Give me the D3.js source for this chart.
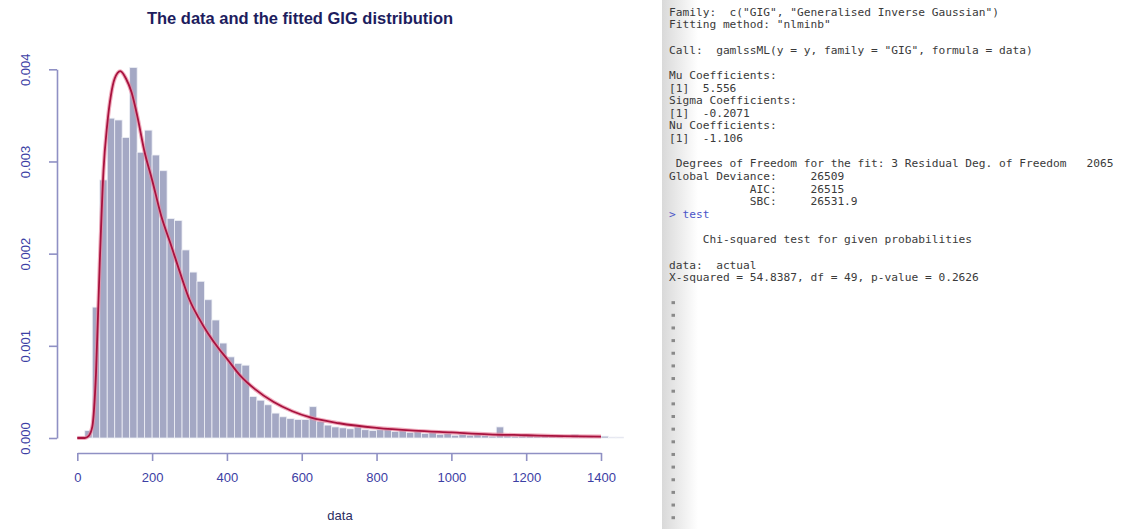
<!DOCTYPE html>
<html>
<head>
<meta charset="utf-8">
<script src="https://cdn.jsdelivr.net/npm/d3@7"></script>
<style>
  body { margin: 0; background: #fff; }
  svg { display: block; }
</style>
</head>
<body>
<svg id="drawing_region"></svg>
<script>
// histogram: bin width 20, left edges 0..1440
const binWidth = 20;
const binStarts = d3.range(0, 1460, binWidth);
const density = [
    0.00002, 0.00008, 0.00142, 0.0028, 0.00347, 0.00345, 0.00326, 0.00402, 0.0031, 0.00334,
    0.00307, 0.0029, 0.00238, 0.00236, 0.00204, 0.0018, 0.0017, 0.0015, 0.00128, 0.00103,
    0.00088, 0.00081, 0.00079, 0.00045, 0.00041, 0.00036, 0.00027, 0.00023, 0.00021, 0.0002,
    0.0002, 0.00034, 0.00018, 0.00014, 0.00012, 0.00011, 0.0001, 0.00012, 0.00009, 0.00008,
    0.00009, 0.0001, 0.00007, 0.00008, 0.00006, 0.00007, 0.00005, 0.00006, 0.00004, 0.00005,
    0.00003, 0.00004, 0.00003, 0.00004, 0.00003, 0.00002, 0.00012, 0.00003, 0.00002, 0.00003,
    0.00004, 0.00002, 0.00003, 0.00002, 0.00003, 0.00001, 0.00004, 0.00002, 0.00002, 0.00001,
    0.00002, 0.00001, 0.00001
];

// fitted GIG curve
const curveX = [0, 20, 30, 40, 50, 60, 70, 80, 90, 100, 115, 130, 145, 160, 180, 200, 225, 250,
    275, 300, 325, 350, 380, 400, 435, 475, 525, 575, 625, 700, 800, 900, 1000, 1100, 1200, 1300, 1400];
const curveY = [0, 0, 0.00002, 0.00012, 0.0007, 0.0019, 0.0029, 0.0034, 0.00372, 0.0039, 0.00398,
    0.0039, 0.00375, 0.0035, 0.0031, 0.0028, 0.0024, 0.0021, 0.00179, 0.0015, 0.0013, 0.00113,
    0.00096, 0.00086, 0.00068, 0.00053, 0.00039, 0.00029, 0.00022, 0.00016, 0.00011, 0.00008,
    0.00006, 0.00004, 0.00003, 0.00002, 0.000015];

const xTicks = [0, 200, 400, 600, 800, 1000, 1200, 1400];
const yTicks = [0, 0.001, 0.002, 0.003, 0.004];

const titleText = "The data and the fitted GIG distribution";
const xLabel = "data";

// R console output
const consoleLines = [
    'Family:  c("GIG", "Generalised Inverse Gaussian") ',
    'Fitting method: "nlminb" ',
    '',
    'Call:  gamlssML(y = y, family = "GIG", formula = data) ',
    '',
    'Mu Coefficients:',
    '[1]  5.556',
    'Sigma Coefficients:',
    '[1]  -0.2071',
    'Nu Coefficients:',
    '[1]  -1.106',
    '',
    ' Degrees of Freedom for the fit: 3 Residual Deg. of Freedom   2065 ',
    'Global Deviance:     26509 ',
    '            AIC:     26515 ',
    '            SBC:     26531.9 ',
    '> test',
    '',
    '     Chi-squared test for given probabilities',
    '',
    'data:  actual',
    'X-squared = 54.8387, df = 49, p-value = 0.2626',
    ''
];
const promptCount = 18;

class HistPlot {
    constructor( config ) {
        this.config = config;
        this.init();
    }

    init() {
        let self = this;
        self.svg = d3.select( self.config.parent )
            .attr('width', self.config.width)
            .attr('height', self.config.height);

        self.xscale = d3.scaleLinear()
            .domain([0, 1400])
            .range([77.3, 601]);
        self.yscale = d3.scaleLinear()
            .domain([0, 0.004])
            .range([438, 69.3]);
    }

    render() {
        let self = this;
        const font = "'Liberation Sans', Arial, sans-serif";

        self.svg.append('text')
            .text(titleText)
            .attr('x', 300)
            .attr('y', 24)
            .attr('text-anchor', 'middle')
            .attr('font-family', font)
            .attr('font-weight', 'bold')
            .attr('font-size', '16.5px')
            .attr('fill', '#1d1d5e');

        // bars
        self.svg.append('g').selectAll('rect')
            .data(binStarts)
            .join('rect')
            .attr('x', d => self.xscale(d))
            .attr('width', d => self.xscale(d + binWidth) - self.xscale(d))
            .attr('y', (d, i) => self.yscale(density[i]))
            .attr('height', (d, i) => self.yscale(0) - self.yscale(density[i]))
            .attr('fill', '#a4a8c4')
            .attr('stroke', '#eef0f6')
            .attr('stroke-width', 0.8);

        // fitted curve
        const pts = curveX.map((x, i) => [x, curveY[i]]);
        const line = d3.line()
            .x(d => self.xscale(d[0]))
            .y(d => self.yscale(d[1]))
            .curve(d3.curveMonotoneX);
        self.svg.append('path')
            .attr('d', line(pts))
            .attr('fill', 'none')
            .attr('stroke', '#ea8aa2')
            .attr('stroke-width', 4)
            .attr('opacity', 0.7);
        self.svg.append('path')
            .attr('d', line(pts))
            .attr('fill', 'none')
            .attr('stroke', '#a8123e')
            .attr('stroke-width', 1.8);

        // axes
        const xaxis = d3.axisBottom(self.xscale)
            .tickValues(xTicks)
            .tickSize(8)
            .tickSizeOuter(0)
            .tickPadding(12)
            .tickFormat(d3.format('d'));
        const xg = self.svg.append('g')
            .attr('transform', 'translate(0,453)')
            .call(xaxis);

        const yaxis = d3.axisLeft(self.yscale)
            .tickValues(yTicks)
            .tickSize(8)
            .tickSizeOuter(0)
            .tickFormat(d3.format('.3f'));
        const yg = self.svg.append('g')
            .attr('transform', 'translate(57,0)')
            .call(yaxis);

        [xg, yg].forEach(g => {
            g.selectAll('path, line')
                .attr('stroke', '#8f90c4')
                .attr('stroke-width', 1.6);
            g.selectAll('text')
                .attr('font-family', font)
                .attr('font-size', '13px')
                .attr('fill', '#3c40a4');
        });

        // R draws the y labels parallel to the axis
        yg.selectAll('.tick text')
            .attr('x', null).attr('dy', null)
            .attr('text-anchor', 'middle')
            .attr('transform', 'translate(-27,0) rotate(-90)');

        self.svg.append('text')
            .text(xLabel)
            .attr('x', 340)
            .attr('y', 520)
            .attr('text-anchor', 'middle')
            .attr('font-family', font)
            .attr('font-size', '13px')
            .attr('fill', '#2b2c62');
    }
}

class ConsolePanel {
    constructor( config ) {
        this.config = config;
    }

    render() {
        let self = this;
        const svg = d3.select(self.config.parent);
        const lh = 12.65;
        const top = 15.6;

        const grad = svg.append('defs').append('linearGradient')
            .attr('id', 'edge');
        grad.append('stop').attr('offset', '0%').attr('stop-color', '#d9d9d9');
        grad.append('stop').attr('offset', '100%').attr('stop-color', '#ffffff');
        svg.append('rect')
            .attr('x', 662).attr('y', 0)
            .attr('width', 36).attr('height', self.config.height)
            .attr('fill', 'url(#edge)');

        svg.append('g').selectAll('text')
            .data(consoleLines)
            .join('text')
            .attr('x', 669)
            .attr('y', (d, i) => top + i * lh)
            .attr('xml:space', 'preserve')
            .style('white-space', 'pre')
            .attr('font-family', "'DejaVu Sans Mono', monospace")
            .attr('font-size', '11.2px')
            .attr('fill', d => d.startsWith('>') ? '#4a55c8' : '#3a3a3a')
            .text(d => d);

        svg.append('g').selectAll('rect')
            .data(d3.range(promptCount))
            .join('rect')
            .attr('x', 671.5)
            .attr('y', i => 11.7 + (consoleLines.length + i) * lh - 1.5)
            .attr('width', 3.5)
            .attr('height', 3)
            .attr('fill', '#8a8a8a');
    }
}

const plot = new HistPlot({ parent: '#drawing_region', width: 1128, height: 529 });
plot.render();
const panel = new ConsolePanel({ parent: '#drawing_region', height: 529 });
panel.render();
</script>
</body>
</html>
